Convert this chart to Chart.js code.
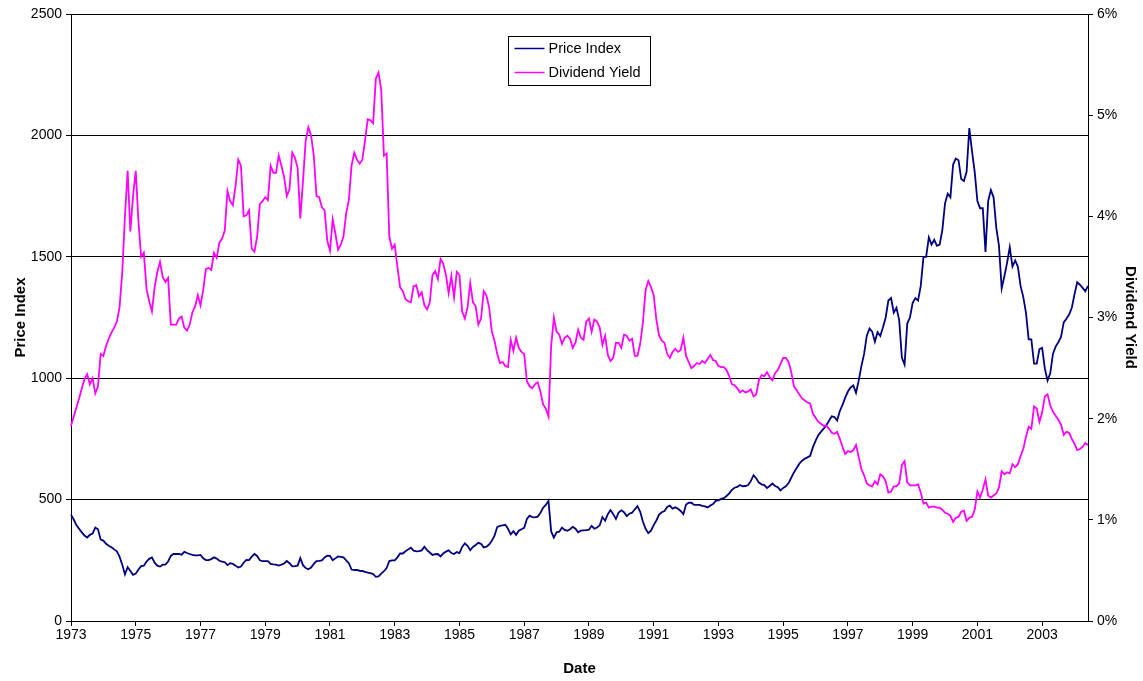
<!DOCTYPE html>
<html>
<head>
<meta charset="utf-8">
<title>Price Index and Dividend Yield</title>
<script src="https://cdn.jsdelivr.net/npm/chart.js@4/dist/chart.umd.min.js"></script>
<style>
  html, body { margin: 0; padding: 0; background: #ffffff; }
  #wrap { width: 1143px; height: 681px; }
</style>
</head>
<body>
<div id="wrap"><canvas id="chart" width="1143" height="681"></canvas></div>
<script>
// Monthly series, January 1973 onward
const startYear = 1973;

const priceIndex = [
  438,418,395,380,365,352,344,355,360,385,378,335,       // 1973
  331,318,310,304,295,287,265,232,192,222,206,190,       // 1974
  195,212,226,228,245,256,262,240,228,224,232,232,       // 1975
  245,268,276,276,276,273,285,280,276,272,270,270,       // 1976
  272,258,251,251,255,262,257,248,245,242,230,238,       // 1977
  235,228,220,224,240,252,251,265,276,268,250,247,       // 1978
  247,247,235,233,232,228,232,237,247,238,225,226,       // 1979
  228,259,230,218,213,220,235,247,248,250,262,269,       // 1980
  268,250,258,266,264,262,250,238,212,210,210,207,       // 1981
  206,202,199,197,193,182,184,195,205,218,247,250,       // 1982
  250,262,278,278,287,295,302,290,287,288,291,306,       // 1983
  292,282,272,275,276,266,278,286,291,280,276,284,       // 1984
  280,305,320,310,292,305,313,322,318,303,306,315,       // 1985
  330,352,387,392,394,396,380,357,370,355,372,378,       // 1986
  384,420,434,428,427,430,445,466,478,495,369,343,       // 1987
  365,368,385,375,372,378,388,380,365,372,373,374,       // 1988
  376,392,380,385,394,428,413,440,457,440,420,447,       // 1989
  456,448,432,442,446,460,473,450,410,380,362,372,       // 1990
  395,414,438,448,453,470,475,463,468,462,453,440,       // 1991
  480,487,487,478,478,478,474,472,468,476,482,495,       // 1992
  497,503,506,515,526,540,549,552,560,555,556,560,       // 1993
  576,600,588,570,563,560,548,556,566,556,551,538,       // 1994
  548,555,568,590,612,630,648,660,668,674,680,715,       // 1995
  742,765,779,792,806,825,843,840,826,865,890,920,       // 1996
  945,962,970,940,990,1050,1100,1175,1205,1192,1150,1190, // 1997
  1174,1210,1250,1320,1330,1270,1290,1240,1085,1056,1225,1250, // 1998
  1310,1330,1320,1380,1500,1500,1580,1550,1570,1545,1550,1610, // 1999
  1720,1760,1745,1880,1905,1898,1820,1812,1850,2030,1935,1850, // 2000
  1730,1700,1700,1520,1730,1775,1745,1620,1545,1370,1420,1475, // 2001
  1540,1460,1485,1460,1380,1335,1270,1160,1160,1060,1060,1120, // 2002
  1125,1040,990,1020,1100,1130,1148,1170,1230,1245,1262,1290,  // 2003
  1345,1395,1385,1372,1358,1380                                 // 2004
];

// Dividend yield, in percent
const dividendYield = [
  1.93,2.02,2.11,2.20,2.30,2.39,2.44,2.34,2.40,2.25,2.32,2.64, // 1973
  2.62,2.72,2.79,2.85,2.90,2.96,3.10,3.45,4.00,4.45,3.85,4.20, // 1974
  4.45,3.95,3.60,3.64,3.28,3.16,3.06,3.30,3.45,3.55,3.40,3.35, // 1975
  3.39,2.93,2.93,2.93,2.99,3.01,2.90,2.87,2.93,3.05,3.11,3.22, // 1976
  3.12,3.27,3.48,3.49,3.47,3.64,3.59,3.74,3.78,3.86,4.25,4.15, // 1977
  4.11,4.30,4.56,4.50,4.00,4.01,4.06,3.68,3.65,3.80,4.12,4.15, // 1978
  4.19,4.16,4.50,4.43,4.43,4.60,4.50,4.39,4.20,4.27,4.63,4.58, // 1979
  4.48,3.98,4.35,4.75,4.88,4.80,4.60,4.20,4.19,4.09,4.06,3.76, // 1980
  3.66,3.97,3.83,3.67,3.72,3.80,4.03,4.16,4.50,4.63,4.56,4.52, // 1981
  4.56,4.75,4.96,4.95,4.92,5.36,5.42,5.25,4.60,4.62,3.80,3.68, // 1982
  3.72,3.50,3.30,3.26,3.18,3.16,3.15,3.31,3.32,3.21,3.25,3.12, // 1983
  3.08,3.15,3.42,3.46,3.38,3.58,3.53,3.42,3.24,3.41,3.20,3.45, // 1984
  3.42,3.06,2.99,3.10,3.34,3.15,3.11,2.93,2.99,3.26,3.22,3.10, // 1985
  2.86,2.77,2.64,2.55,2.56,2.52,2.51,2.78,2.67,2.80,2.70,2.66, // 1986
  2.64,2.37,2.32,2.30,2.34,2.36,2.27,2.14,2.10,2.02,2.72,3.00, // 1987
  2.86,2.83,2.74,2.80,2.82,2.79,2.70,2.75,2.88,2.80,2.78,2.96, // 1988
  2.99,2.86,2.98,2.96,2.90,2.73,2.82,2.63,2.57,2.60,2.75,2.75, // 1989
  2.70,2.83,2.82,2.77,2.79,2.62,2.62,2.74,2.95,3.27,3.36,3.30, // 1990
  3.22,2.98,2.82,2.77,2.75,2.64,2.60,2.66,2.69,2.66,2.68,2.80, // 1991
  2.62,2.56,2.50,2.52,2.55,2.54,2.57,2.55,2.59,2.63,2.58,2.57, // 1992
  2.52,2.51,2.51,2.48,2.42,2.34,2.33,2.30,2.26,2.28,2.26,2.27, // 1993
  2.29,2.22,2.24,2.38,2.43,2.42,2.46,2.41,2.38,2.45,2.48,2.54, // 1994
  2.60,2.60,2.56,2.46,2.32,2.28,2.24,2.20,2.18,2.16,2.15,2.05, // 1995
  2.01,1.97,1.95,1.93,1.93,1.90,1.86,1.85,1.87,1.80,1.72,1.65, // 1996
  1.68,1.67,1.69,1.74,1.62,1.50,1.44,1.36,1.34,1.33,1.38,1.35, // 1997
  1.45,1.43,1.38,1.27,1.28,1.33,1.33,1.36,1.54,1.58,1.37,1.34, // 1998
  1.34,1.34,1.35,1.27,1.16,1.17,1.12,1.13,1.13,1.12,1.12,1.10, // 1999
  1.07,1.06,1.04,0.98,1.02,1.03,1.08,1.09,0.99,1.02,1.03,1.10, // 2000
  1.28,1.22,1.30,1.40,1.24,1.22,1.24,1.26,1.32,1.48,1.45,1.47, // 2001
  1.46,1.55,1.52,1.55,1.63,1.70,1.82,1.92,1.90,2.12,2.10,1.97, // 2002
  2.06,2.22,2.24,2.13,2.07,2.03,1.99,1.94,1.84,1.87,1.86,1.80, // 2003
  1.75,1.69,1.70,1.72,1.76,1.74                                // 2004
];

// Month labels for the category axis ("YYYY-MM")
const months = priceIndex.map((_, i) =>
  (startYear + Math.floor(i / 12)) + '-' + String(i % 12 + 1).padStart(2, '0'));

// Axis tick labels
const yearLabels = ['1973','1975','1977','1979','1981','1983','1985','1987',
                    '1989','1991','1993','1995','1997','1999','2001','2003'];
const priceTicks = [0, 500, 1000, 1500, 2000, 2500];
const yieldTicks = [0, 1, 2, 3, 4, 5, 6];

const FONT = '"Liberation Sans", Arial, Helvetica, sans-serif';
const NAVY = '#000080';
const MAGENTA = '#FF00FF';

// Boxed legend inside the plot, near the top centre
const boxedLegend = {
  id: 'boxedLegend',
  afterDraw(chart) {
    const ctx = chart.ctx;
    const x = 508.5, y = 36.5, w = 142, h = 49;
    ctx.save();
    ctx.fillStyle = '#ffffff';
    ctx.fillRect(x, y, w, h);
    ctx.strokeStyle = '#000000';
    ctx.lineWidth = 1;
    ctx.strokeRect(x, y, w, h);
    ctx.font = '14.5px ' + FONT;
    ctx.textBaseline = 'middle';
    ctx.textAlign = 'left';
    chart.data.datasets.forEach((ds, i) => {
      const rowY = y + 12 + i * 24;
      ctx.strokeStyle = ds.borderColor;
      ctx.lineWidth = 1.5;
      ctx.beginPath();
      ctx.moveTo(x + 6, rowY);
      ctx.lineTo(x + 36, rowY);
      ctx.stroke();
      ctx.fillStyle = '#000000';
      ctx.fillText(ds.label, x + 40, rowY);
    });
    ctx.restore();
  }
};

new Chart(document.getElementById('chart'), {
  type: 'line',
  data: {
    labels: months,
    datasets: [
      {
        label: 'Price Index',
        data: priceIndex,
        yAxisID: 'y',
        borderColor: NAVY,
        backgroundColor: NAVY,
        borderWidth: 1.8,
        pointRadius: 0,
        tension: 0,
        order: 1
      },
      {
        label: 'Dividend Yield',
        data: dividendYield,
        yAxisID: 'y1',
        borderColor: MAGENTA,
        backgroundColor: MAGENTA,
        borderWidth: 1.8,
        pointRadius: 0,
        tension: 0,
        order: 0
      }
    ]
  },
  options: {
    responsive: false,
    animation: false,
    devicePixelRatio: 1,
    layout: { padding: { top: 14, left: 0, right: 0, bottom: 0 } },
    plugins: {
      legend: { display: false },
      tooltip: { enabled: false }
    },
    scales: {
      x: {
        type: 'category',
        offset: false,
        afterBuildTicks(scale) {
          scale.ticks = scale.ticks.filter(t => t.value % 24 === 0);
        },
        afterFit(scale) { scale.height = 60; },
        ticks: {
          autoSkip: false,
          maxRotation: 0,
          minRotation: 0,
          padding: 1,
          color: '#000000',
          font: { family: FONT, size: 14 },
          callback: (value, index) => yearLabels[index]
        },
        grid: {
          display: true,
          drawOnChartArea: false,
          drawTicks: true,
          tickLength: 5,
          color: '#000000',
          lineWidth: 1
        },
        border: { display: true, color: '#000000', width: 1 },
        title: {
          display: true,
          text: 'Date',
          color: '#000000',
          font: { family: FONT, size: 15, weight: 'bold' },
          padding: { top: 0, bottom: 3 }
        }
      },
      y: {
        position: 'left',
        min: 0,
        max: 2500,
        afterBuildTicks(scale) {
          scale.ticks = priceTicks.map(v => ({ value: v }));
        },
        afterFit(scale) { scale.width = 71; },
        ticks: {
          padding: 4,
          color: '#000000',
          font: { family: FONT, size: 14 },
          callback: v => String(v)
        },
        grid: {
          display: true,
          drawOnChartArea: true,
          drawTicks: true,
          tickLength: 5,
          color: '#000000',
          lineWidth: 1
        },
        border: { display: true, color: '#000000', width: 1 },
        title: {
          display: true,
          text: 'Price Index',
          color: '#000000',
          font: { family: FONT, size: 15, weight: 'bold' },
          padding: { top: 12, bottom: 0 }
        }
      },
      y1: {
        position: 'right',
        min: 0,
        max: 6,
        afterBuildTicks(scale) {
          scale.ticks = yieldTicks.map(v => ({ value: v }));
        },
        afterFit(scale) { scale.width = 55; },
        ticks: {
          padding: 4,
          color: '#000000',
          font: { family: FONT, size: 14 },
          callback: v => v + '%'
        },
        grid: {
          display: true,
          drawOnChartArea: false,
          drawTicks: true,
          tickLength: 5,
          color: '#000000',
          lineWidth: 1
        },
        border: { display: true, color: '#000000', width: 1 },
        title: {
          display: true,
          text: 'Dividend Yield',
          color: '#000000',
          font: { family: FONT, size: 15, weight: 'bold' },
          padding: { top: 4, bottom: 0 }
        }
      }
    }
  },
  plugins: [boxedLegend]
});
</script>
</body>
</html>
